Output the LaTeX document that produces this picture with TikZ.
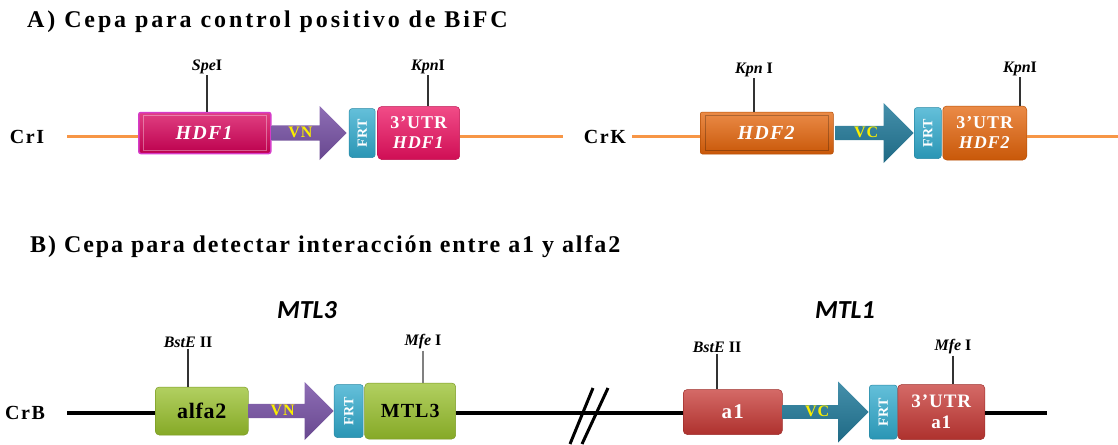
\documentclass[tikz,border=0pt]{standalone}
\usepackage{fontspec}
\setmainfont{Liberation Serif}
\newfontfamily\mtlfont{Carlito}
\usetikzlibrary{positioning,shapes.arrows}
\definecolor{hdfpink}{RGB}{214,0,88}
\definecolor{hdfedge}{RGB}{214,60,200}
\definecolor{utrpink}{RGB}{236,16,96}
\definecolor{vnpurple}{RGB}{122,84,168}
\definecolor{frtcyan}{RGB}{48,170,205}
\definecolor{hdforange}{RGB}{228,100,10}
\definecolor{chrorange}{RGB}{247,150,70}
\definecolor{vcteal}{RGB}{36,124,156}
\definecolor{mtlgreen}{RGB}{152,192,44}
\definecolor{aonered}{RGB}{198,56,52}
\definecolor{fpyellow}{RGB}{250,238,0}

\begin{document}
\begin{tikzpicture}[x=1pt,y=-1pt,node distance=0pt,every node/.style={inner sep=0pt},
    gene/.style={rounded corners=4pt,draw=#1!80!black,line width=0.5pt,
        top color=#1!75!white,middle color=#1,bottom color=#1!88!black,
        text=white,align=center,
        font=\fontsize{18}{20}\selectfont\bfseries\addfontfeature{LetterSpace=5}},
    fp/.style={single arrow,single arrow head extend=#1,draw=none,
        text height=9pt,text depth=0pt,text=fpyellow,
        font=\fontsize{16}{16}\selectfont\bfseries\addfontfeature{LetterSpace=6}},
    frt/.style={gene=frtcyan,rounded corners=3pt,
        font=\fontsize{14}{14}\selectfont\bfseries\addfontfeature{LetterSpace=4}},
    site/.style={font=\fontsize{16}{16}\selectfont\bfseries,inner sep=1pt},
    tick/.style={line width=1.2pt,black!80},
    chrlbl/.style={font=\fontsize{20}{20}\selectfont\bfseries\addfontfeature{LetterSpace=8}},
    title/.style={anchor=west,font=\fontsize{24}{24}\selectfont\bfseries\addfontfeature{LetterSpace=#1}},
    mtl/.style={font=\mtlfont\fontsize{26}{26}\selectfont\bfseries\itshape},
    chrA/.style={line width=3pt,chrorange},
    chrB/.style={line width=4pt,black},
    bevel/.style={line width=0.8pt,white,opacity=0.35}]
\useasboundingbox (0,0) rectangle (1118,444);

% A) control positivo
\node[title=12] (titA) at (27,22) {A) Cepa para control positivo de BiFC};

\node[chrlbl] (crI) at (27,137) {CrI};
\node[gene=hdfpink,draw=hdfedge,line width=1.5pt,rounded corners=2pt,anchor=west,
      minimum width=132pt,minimum height=41pt,font=\fontsize{20}{20}\selectfont\bfseries\addfontfeature{LetterSpace=6}] (hdf1) at (138,133) {\textit{HDF1}};
\node[fp=12pt,top color=vnpurple!85!white,middle color=vnpurple,bottom color=vnpurple!85!black,
      minimum height=75pt,minimum width=54pt] (vn1) [right=of hdf1] {VN\hspace*{10pt}};
\node[frt,minimum width=26pt,minimum height=49pt] (frt1) [right=2pt of vn1] {\rotatebox{90}{FRT}};
\node[gene=utrpink,minimum width=82pt,minimum height=53pt] (utr1) [right=2pt of frt1] {3'UTR\\\textit{HDF1}};
\coordinate (crIa) at (67,136);
\coordinate (crIb) at (563,136);
\draw[chrA] (crIa) -- (crIa -| hdf1.west);
\draw[chrA] (crIb -| utr1.east) -- (crIb);
\draw[bevel] ([shift={(5,4)}]hdf1.north west) rectangle ([shift={(-5,-4)}]hdf1.south east);

\node[site] (speI) at (207,67) {\textit{Spe}I};
\node[site] (kpnI) at (428,67) {\textit{Kpn}I};
\draw[tick] (speI.south) -- (speI.south |- hdf1.north);
\draw[tick] (kpnI.south) -- (kpnI.south |- utr1.north);

\node[chrlbl] (crK) at (605,137) {CrK};
\node[gene=hdforange,rounded corners=2pt,anchor=west,
      minimum width=133pt,minimum height=42pt,font=\fontsize{20}{20}\selectfont\bfseries\addfontfeature{LetterSpace=6}] (hdf2) at (700,133) {\textit{HDF2}};
\node[fp=15pt,top color=vcteal!85!white,middle color=vcteal,bottom color=vcteal!85!black,
      minimum height=78pt,minimum width=60pt] (vc1) [right=2pt of hdf2] {VC\hspace*{10pt}};
\node[frt,minimum width=27pt,minimum height=51pt] (frt2) [right=of vc1] {\rotatebox{90}{FRT}};
\node[gene=hdforange,minimum width=84pt,minimum height=54pt] (utr2) [right=1pt of frt2] {3'UTR\\\textit{HDF2}};
\coordinate (crKa) at (632,136);
\coordinate (crKb) at (1118,136);
\draw[chrA] (crKa) -- (crKa -| hdf2.west);
\draw[chrA] (crKb -| utr2.east) -- (crKb);
\draw[bevel,black,opacity=0.25] ([shift={(5,4)}]hdf2.north west) rectangle ([shift={(-5,-4)}]hdf2.south east);

\node[site] (kpnIb) at (754,70) {\textit{Kpn} I};
\node[site] (kpnIc) at (1020,69) {\textit{Kpn}I};
\draw[tick] (kpnIb.south) -- (kpnIb.south |- hdf2.north);
\draw[tick] (kpnIc.south) -- (kpnIc.south |- utr2.north);

% B) interaccion a1 - alfa2
\node[title=8] (titB) at (30,247) {B) Cepa para detectar interacción entre a1 y alfa2};
\node[mtl] (mtl3) at (307,310) {MTL3};
\node[mtl] (mtl1) at (845,310) {MTL1};

\node[chrlbl] (crB) at (25,413) {CrB};
\node[gene=mtlgreen,text=black,anchor=west,font=\fontsize{22}{22}\selectfont\bfseries\addfontfeature{LetterSpace=3},
      minimum width=93pt,minimum height=48pt] (alfa2) at (155,411) {alfa2};
\node[fp=14.5pt,top color=vnpurple!85!white,middle color=vnpurple,bottom color=vnpurple!85!black,
      minimum height=85pt,minimum width=58pt] (vn2) [right=of alfa2] {VN\hspace*{10pt}};
\node[frt,minimum width=29pt,minimum height=53pt] (frt3) [right=of vn2] {\rotatebox{90}{FRT}};
\node[gene=mtlgreen,text=black,font=\fontsize{20}{20}\selectfont\bfseries\addfontfeature{LetterSpace=5},
      minimum width=91pt,minimum height=56pt] (mtl3box) [right=1pt of frt3] {MTL3};

\node[gene=aonered,anchor=west,font=\fontsize{21}{21}\selectfont\bfseries\addfontfeature{LetterSpace=6},
      minimum width=99pt,minimum height=45pt] (a1) at (683,412) {a1};
\node[fp=16pt,top color=vcteal!85!white,middle color=vcteal,bottom color=vcteal!85!black,
      minimum height=86pt,minimum width=61pt] (vc2) [right=of a1] {VC\hspace*{10pt}};
\node[frt,minimum width=28pt,minimum height=54pt] (frt4) [right=of vc2] {\rotatebox{90}{FRT}};
\node[gene=aonered,minimum width=87pt,minimum height=55pt,
      font=\fontsize{19}{21}\selectfont\bfseries\addfontfeature{LetterSpace=5}] (utr3) [right=of frt4] {3'UTR\\a1};

\coordinate (crBa) at (67,413);
\coordinate (crBb) at (1047,413);
\draw[chrB] (crBa) -- (crBa -| alfa2.west);
\draw[chrB] (crBa -| mtl3box.east) -- (crBa -| a1.west);
\draw[chrB] (crBb -| utr3.east) -- (crBb);
% corte
\draw[line width=3pt] (570,444) -- (593,388);
\draw[line width=3pt] (582,444) -- (608,388);

\node[site] (bstE) at (188,342) {\textit{BstE} II};
\node[site] (mfeI) at (423,342) {\textit{Mfe} I};
\node[site] (bstEb) at (717,347) {\textit{BstE} II};
\node[site] (mfeIb) at (953,347) {\textit{Mfe} I};
\draw[tick] (bstE.south) -- (bstE.south |- alfa2.north);
\draw[tick,black!50] (mfeI.south) -- (mfeI.south |- mtl3box.north);
\draw[tick] (bstEb.south) -- (bstEb.south |- a1.north);
\draw[tick] (mfeIb.south) -- (mfeIb.south |- utr3.north);
\end{tikzpicture}
\end{document}
